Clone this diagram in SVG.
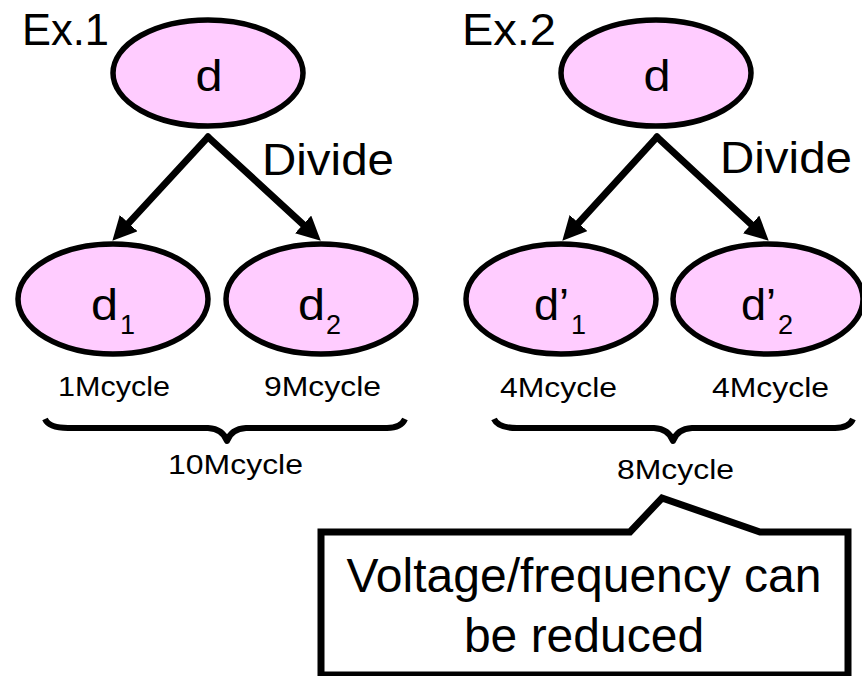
<svg xmlns="http://www.w3.org/2000/svg" width="862" height="676" viewBox="0 0 862 676">
<style>
text{font-family:"Liberation Sans",Arial,sans-serif;fill:#000}
.node{fill:#FFCCFF;stroke:#000;stroke-width:5.5}
.big{font-size:44px}
.dd{font-size:45px}
.lab{font-size:44px}
.sub{font-size:27px}
.cyc{font-size:27px}
.conn{stroke:#000;stroke-width:7;fill:none;stroke-linecap:round}
.brace{stroke:#000;stroke-width:6;fill:none;stroke-linejoin:round}
</style>
<defs>
<marker id="ah" markerUnits="userSpaceOnUse" viewBox="0 0 24 24" refX="8" refY="12" markerWidth="24" markerHeight="24" orient="auto">
<path d="M0,0 L24,12 L0,24 Z" fill="#000"/>
</marker>
</defs>
<rect width="862" height="676" fill="#fff"/>

<text class="big" x="22" y="45" textLength="87" lengthAdjust="spacingAndGlyphs">Ex.1</text>
<text class="big" x="462" y="45" textLength="94" lengthAdjust="spacingAndGlyphs">Ex.2</text>

<g id="connectors">
<path class="conn" d="M208,137 L123.2,229" marker-end="url(#ah)"/>
<path class="conn" d="M208,137 L309,229.8" marker-end="url(#ah)"/>
<path class="conn" d="M657,137 L573.1,228.9" marker-end="url(#ah)"/>
<path class="conn" d="M657,137 L757,229.8" marker-end="url(#ah)"/>
</g>

<text class="lab" x="262" y="175" textLength="132" lengthAdjust="spacingAndGlyphs">Divide</text>
<text class="lab" x="720" y="173" textLength="132" lengthAdjust="spacingAndGlyphs">Divide</text>

<g id="ex1-d">
<ellipse class="node" cx="208" cy="73" rx="95" ry="53"/>
<text class="dd" x="209" y="91" text-anchor="middle" textLength="27" lengthAdjust="spacingAndGlyphs">d</text>
</g>
<g id="ex1-d1">
<ellipse class="node" cx="113" cy="299" rx="95" ry="55"/>
<text class="dd" x="91" y="320" textLength="27" lengthAdjust="spacingAndGlyphs">d</text>
<text class="sub" x="120" y="334">1</text>
</g>
<g id="ex1-d2">
<ellipse class="node" cx="321" cy="299" rx="95" ry="55"/>
<text class="dd" x="298" y="320" textLength="27" lengthAdjust="spacingAndGlyphs">d</text>
<text class="sub" x="326" y="334">2</text>
</g>

<g id="ex2-d">
<ellipse class="node" cx="656" cy="73" rx="95" ry="53"/>
<text class="dd" x="657" y="91" text-anchor="middle" textLength="27" lengthAdjust="spacingAndGlyphs">d</text>
</g>
<g id="ex2-d1">
<ellipse class="node" cx="561" cy="299" rx="95" ry="55"/>
<text class="dd" x="534" y="320">d’</text>
<text class="sub" x="571" y="334">1</text>
</g>
<g id="ex2-d2">
<ellipse class="node" cx="768" cy="299" rx="95" ry="55"/>
<text class="dd" x="741" y="320">d’</text>
<text class="sub" x="778" y="334">2</text>
</g>

<g id="ex1-cycles">
<text class="cyc" x="58" y="396" textLength="112" lengthAdjust="spacingAndGlyphs">1Mcycle</text>
<text class="cyc" x="264" y="396" textLength="117" lengthAdjust="spacingAndGlyphs">9Mcycle</text>
<path class="brace" d="M45,419 Q49,428 68,428 L208,428 Q223,429 227,441 Q231,429 246,428 L387,428 Q401,428 405,419"/>
<text class="cyc" x="168" y="474" textLength="135" lengthAdjust="spacingAndGlyphs">10Mcycle</text>
</g>

<g id="ex2-cycles">
<text class="cyc" x="500" y="397" textLength="117" lengthAdjust="spacingAndGlyphs">4Mcycle</text>
<text class="cyc" x="712" y="397" textLength="117" lengthAdjust="spacingAndGlyphs">4Mcycle</text>
<path class="brace" d="M494,419 Q498,428 517,428 L654,428 Q669,429 673,441 Q677,429 692,428 L835,428 Q849,428 853,419"/>
<text class="cyc" x="617" y="479" textLength="117" lengthAdjust="spacingAndGlyphs">8Mcycle</text>
</g>

<g id="callout">
<path d="M321,532 L630,532 L662,498 L760,532 L848,532 L848,675 L321,675 Z" fill="#fff" stroke="#000" stroke-width="7"/>
<text x="584" y="592" text-anchor="middle" font-size="48">Voltage/frequency can</text>
<text x="584" y="652" text-anchor="middle" font-size="48">be reduced</text>
</g>
</svg>
